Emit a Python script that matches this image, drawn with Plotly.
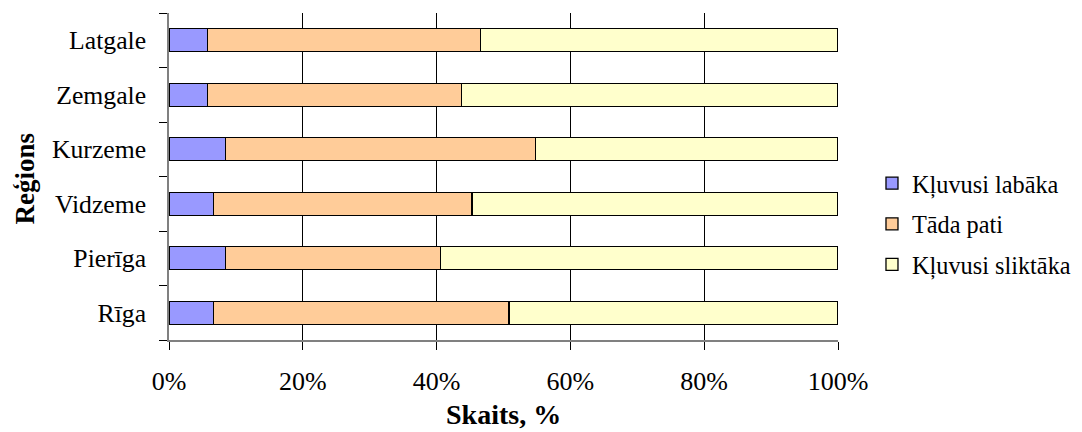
import plotly.graph_objects as go

regions = ["Rīga", "Pierīga", "Vidzeme", "Kurzeme", "Zemgale", "Latgale"]
series_names = ["Kļuvusi labāka", "Tāda pati", "Kļuvusi sliktāka"]
better = [6.6, 8.4, 6.6, 8.4, 5.8, 5.8]
same = [44.2, 32.2, 38.7, 46.4, 37.9, 40.8]
worse = [49.2, 59.4, 54.7, 45.2, 56.3, 53.4]
colors = ["#9999FF", "#FFCC99", "#FFFFCC"]
x_ticks = [0, 20, 40, 60, 80, 100]
x_ticklabels = [f"{v}%" for v in x_ticks]
x_title = "Skaits, %"
y_title = "Reģions"

FONT = "Liberation Serif"

fig = go.Figure()
for name, vals, col in zip(series_names, [better, same, worse], colors):
    fig.add_trace(go.Bar(
        y=regions, x=vals, name=name, orientation="h",
        marker=dict(color=col, line=dict(color="black", width=1.3)),
        legendgroup=name,
    ))

# page body has an 8px margin, so the figure is offset by (8, 8)
fig.update_layout(
    barmode="stack",
    bargap=0.58,
    width=1074, height=424,
    margin=dict(l=161, r=244, t=5, b=92, autoexpand=False),
    paper_bgcolor="white", plot_bgcolor="white",
    font=dict(family=FONT, size=25, color="black"),
    legend=dict(
        x=1.0508, y=0.355, xanchor="left", yanchor="middle",
        traceorder="grouped", tracegroupgap=6,
        font=dict(family=FONT, size=24.3),
        itemwidth=30,
    ),
    showlegend=True,
    annotations=[
        dict(text=f"<b>{x_title}</b>", xref="paper", yref="paper", x=0.5, y=0,
             xanchor="center", yanchor="top", yshift=-57, showarrow=False,
             font=dict(family=FONT, size=28)),
        dict(text=f"<b>{y_title}</b>", xref="paper", yref="paper", x=0, y=0.5,
             xanchor="center", yanchor="middle", xshift=-145, yshift=-2,
             textangle=-90, showarrow=False, font=dict(family=FONT, size=27)),
    ],
)
fig.update_xaxes(
    range=[0, 100], tickvals=x_ticks, ticktext=x_ticklabels,
    showgrid=True, gridcolor="black", gridwidth=1,
    showline=True, linecolor="#808080", linewidth=1.5,
    ticks="outside", ticklen=8, tickcolor="black",
    ticklabelstandoff=9,
    zeroline=False,
    tickfont=dict(family=FONT, size=26),
)
fig.update_yaxes(
    type="category",
    showline=True, linecolor="#808080", linewidth=1.5,
    ticks="outside", ticklen=8, tickcolor="black", tickson="boundaries",
    ticklabelstandoff=16,
    showgrid=False,
    tickfont=dict(family=FONT, size=25.7),
)

fig.write_html("out.html")
